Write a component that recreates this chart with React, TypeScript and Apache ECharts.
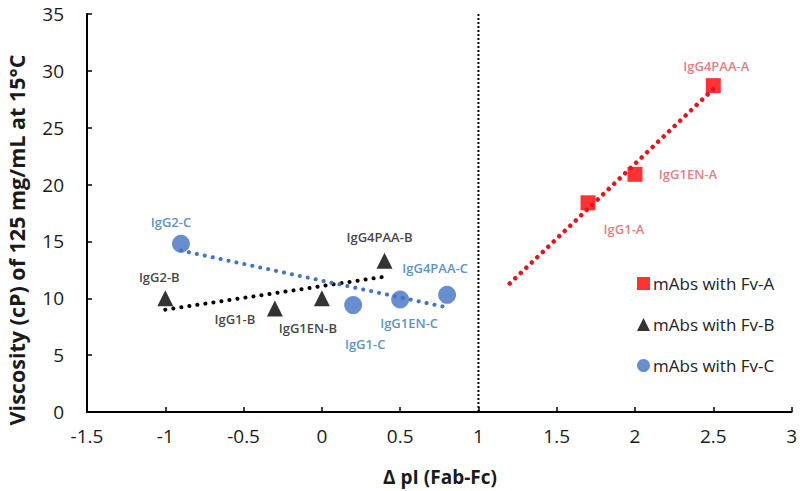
import React, { useEffect, useRef } from "react";
import * as echarts from "echarts";

// Δ pI (Fab-Fc) and viscosity values
const fvANames = ["IgG1-A", "IgG1EN-A", "IgG4PAA-A"];
const fvAX = [1.7, 2.0, 2.5];
const fvAY = [18.4, 20.9, 28.7];

const fvBNames = ["IgG2-B", "IgG1-B", "IgG1EN-B", "IgG4PAA-B"];
const fvBX = [-1.0, -0.3, 0.0, 0.4];
const fvBY = [10.0, 9.1, 10.0, 13.3];

const fvCNames = ["IgG2-C", "IgG1-C", "IgG1EN-C", "IgG4PAA-C"];
const fvCX = [-0.9, 0.2, 0.5, 0.8];
const fvCY = [14.8, 9.4, 9.9, 10.3];

// trendline end points
const trendAX = [1.2, 2.5];
const trendAY = [11.3, 28.4];
const trendBX = [-1.0, 0.4];
const trendBY = [9.0, 11.9];
const trendCX = [-0.9, 0.8];
const trendCY = [14.2, 9.2];

const dividerX = [1, 1];
const dividerY = [0, 35];

const seriesNames = ["mAbs with Fv-A", "mAbs with Fv-B", "mAbs with Fv-C"];

// label offsets (layout only)
const offA = [[36, 26], [53, 0], [3, -20]];
const offB = [[-6, -21], [-40, 10], [-14, 30], [-5, -24]];
const offC = [[-10, -22], [12, 39], [9, 24], [-12, -27]];

const FONT = "Open Sans";

function pts(xs: number[], ys: number[]) {
  return xs.map((x, i) => [x, ys[i]]);
}

function labeled(names: string[], xs: number[], ys: number[], offs: number[][]) {
  return xs.map((x, i) => ({
    name: names[i],
    value: [x, ys[i]],
    label: { offset: offs[i] },
  }));
}

export default function App() {
  const ref = useRef<HTMLDivElement>(null);
  useEffect(() => {
    document.body.style.margin = "0";
    if (!ref.current) return;
    const chart = echarts.init(ref.current, null, { renderer: "svg" });
    const labelBase = (color: string) => ({
      show: true,
      position: "inside",
      formatter: (p: any) => p.name,
      color,
      fontFamily: FONT,
      fontSize: 13,
      fontWeight: 600,
    });
    const dotted = (color: string, width: number, gap: number) => ({
      color,
      width,
      type: [0.1, gap],
      cap: "round",
    });
    chart.setOption({
      animation: false,
      backgroundColor: "#ffffff",
      textStyle: { fontFamily: FONT },
      grid: { left: 87, right: 7, top: 14, bottom: 79, containLabel: false },
      xAxis: {
        type: "value",
        min: -1.5,
        max: 3,
        interval: 0.5,
        axisLine: { show: true, onZero: false, lineStyle: { color: "#000", width: 2 } },
        axisTick: { show: true, inside: true, length: 5, lineStyle: { color: "#000", width: 1.5 } },
        splitLine: { show: false },
        axisLabel: { color: "#1a1a1a", fontSize: 19, fontFamily: FONT, margin: 14 },
      },
      yAxis: {
        type: "value",
        min: 0,
        max: 35,
        interval: 5,
        axisLine: { show: true, onZero: false, lineStyle: { color: "#000", width: 2 } },
        axisTick: { show: true, inside: true, length: 5, lineStyle: { color: "#000", width: 1.5 } },
        splitLine: { show: false },
        axisLabel: { color: "#1a1a1a", fontSize: 19, fontFamily: FONT, margin: 23 },
      },
      legend: {
        orient: "vertical",
        left: 632,
        top: 270,
        itemGap: 24,
        itemWidth: 13,
        itemHeight: 13,
        data: seriesNames,
        textStyle: { color: "#222", fontSize: 17, fontFamily: FONT, padding: [0, 0, 0, -2] },
      },
      graphic: [
        {
          type: "text",
          x: 16,
          y: 240,
          rotation: Math.PI / 2,
          style: {
            text: "Viscosity (cP) of 125 mg/mL at 15°C",
            fontFamily: FONT,
            fontSize: 21.5,
            fontWeight: "bold",
            fill: "#1a1a1a",
            align: "center",
            verticalAlign: "middle",
          },
        },
        {
          type: "text",
          x: 440,
          y: 477,
          style: {
            text: "Δ pI (Fab-Fc)",
            fontFamily: FONT,
            fontSize: 19,
            fontWeight: "bold",
            fill: "#1a1a1a",
            align: "center",
            verticalAlign: "middle",
          },
        },
      ],
      series: [
        {
          type: "line",
          data: pts(dividerX, dividerY),
          symbol: "none",
          silent: true,
          lineStyle: { color: "#000", width: 2, type: [2, 2] },
        },
        {
          type: "line",
          data: pts(trendAX, trendAY),
          symbol: "none",
          silent: true,
          lineStyle: dotted("#e8141c", 4.5, 7.5),
        },
        {
          type: "line",
          data: pts(trendBX, trendBY),
          symbol: "none",
          silent: true,
          lineStyle: dotted("#000", 4, 8),
        },
        {
          type: "line",
          data: pts(trendCX, trendCY),
          symbol: "none",
          silent: true,
          lineStyle: dotted("#4472c4", 4, 8),
        },
        {
          name: seriesNames[0],
          type: "scatter",
          symbol: "rect",
          symbolSize: 15,
          itemStyle: { color: "#ff0000" },
          label: labelBase("#e05a5a"),
          data: labeled(fvANames, fvAX, fvAY, offA),
        },
        {
          name: seriesNames[1],
          type: "scatter",
          symbol: "triangle",
          symbolSize: 16,
          itemStyle: { color: "#000000" },
          label: labelBase("#111111"),
          data: labeled(fvBNames, fvBX, fvBY, offB),
        },
        {
          name: seriesNames[2],
          type: "scatter",
          symbol: "circle",
          symbolSize: 18,
          itemStyle: { color: "#4472c4" },
          label: labelBase("#2e75b6"),
          data: labeled(fvCNames, fvCX, fvCY, offC),
        },
      ],
    });
    return () => chart.dispose();
  }, []);
  return <div ref={ref} style={{ width: 800, height: 491 }} />;
}
